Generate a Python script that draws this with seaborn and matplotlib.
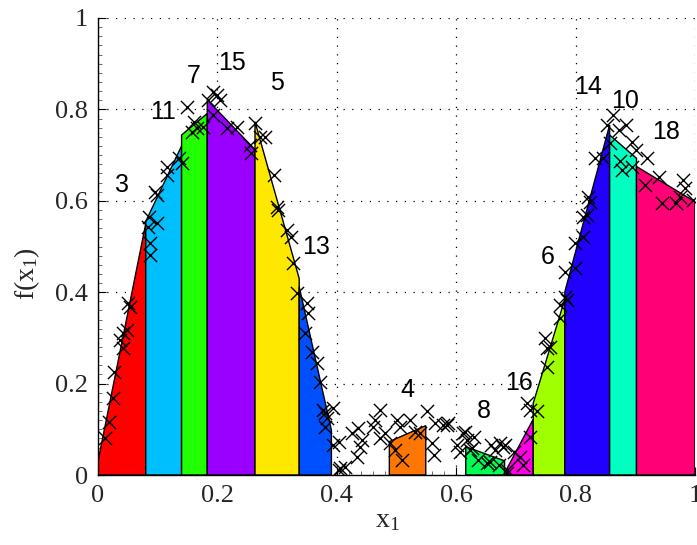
import matplotlib
matplotlib.use("Agg")
import matplotlib.pyplot as plt
from matplotlib.ticker import MultipleLocator
import numpy as np
import pandas as pd
import seaborn as sns

# Piecewise-linear local models: one trapezoid per region
region_ids = [3, 11, 7, 15, 5, 13, 4, 8, 16, 6, 14, 10, 18]
x_left = [0.000, 0.080, 0.140, 0.183, 0.263, 0.337, 0.488, 0.616, 0.681, 0.729, 0.782, 0.857, 0.902]
x_right = [0.080, 0.140, 0.183, 0.263, 0.337, 0.391, 0.549, 0.681, 0.729, 0.782, 0.857, 0.902, 1.000]
f_left = [0.030, 0.555, 0.744, 0.821, 0.773, 0.412, 0.073, 0.062, 0.004, 0.157, 0.401, 0.744, 0.675]
f_right = [0.550, 0.720, 0.791, 0.712, 0.430, 0.098, 0.108, 0.031, 0.122, 0.385, 0.766, 0.693, 0.598]
region_colors = ["#FF0000", "#00BFFF", "#22FF00", "#9900FF", "#FFE800", "#0050FF", "#FF7700",
                 "#00FF55", "#FF00E6", "#A0FF00", "#2200FF", "#00FFC0", "#FF0077"]

# Where each region number is written
label_x = [0.041, 0.109, 0.161, 0.224, 0.299, 0.365, 0.518, 0.647, 0.706, 0.754, 0.821, 0.883, 0.951]
label_y = [0.635, 0.795, 0.872, 0.902, 0.857, 0.500, 0.185, 0.141, 0.201, 0.478, 0.849, 0.818, 0.751]

# Training samples
sample_x = [0.012, 0.019, 0.025, 0.026, 0.042, 0.037, 0.042, 0.048, 0.051, 0.054,
            0.084, 0.087, 0.087, 0.086, 0.098, 0.095, 0.098, 0.115, 0.116, 0.135,
            0.140, 0.149, 0.160, 0.157, 0.165, 0.176, 0.185, 0.193, 0.199, 0.204,
            0.193, 0.216, 0.232, 0.255, 0.257, 0.263, 0.271, 0.280, 0.294, 0.299,
            0.302, 0.316, 0.324, 0.327, 0.333, 0.350, 0.352, 0.347, 0.358, 0.366,
            0.372, 0.377, 0.383, 0.380, 0.394, 0.403, 0.403, 0.414,
            0.380, 0.394, 0.405, 0.425, 0.436, 0.433, 0.439, 0.442, 0.464, 0.472,
            0.461, 0.472, 0.481, 0.489, 0.500, 0.497, 0.509, 0.506, 0.523, 0.531,
            0.539, 0.551, 0.559, 0.562, 0.564, 0.578, 0.587, 0.601, 0.606, 0.615,
            0.618, 0.626, 0.637, 0.651, 0.659, 0.665, 0.673, 0.671, 0.682, 0.685,
            0.696, 0.718, 0.724,
            0.584, 0.612, 0.629, 0.623, 0.657, 0.679, 0.685, 0.707, 0.712, 0.724,
            0.735, 0.752, 0.752, 0.749, 0.757, 0.774, 0.774, 0.782, 0.785, 0.782,
            0.799, 0.799, 0.813, 0.813, 0.819, 0.824, 0.821, 0.832, 0.846, 0.852,
            0.863, 0.858, 0.872, 0.885, 0.874, 0.877, 0.894, 0.894, 0.902, 0.919,
            0.916, 0.939, 0.944, 0.969, 0.975, 0.980, 0.983, 0.997]
sample_f = [0.080, 0.117, 0.168, 0.226, 0.277, 0.295, 0.310, 0.317, 0.376, 0.368,
            0.543, 0.507, 0.481, 0.565, 0.551, 0.620, 0.613, 0.656, 0.675, 0.693,
            0.682, 0.806, 0.773, 0.751, 0.759, 0.762, 0.821, 0.839, 0.832, 0.821,
            0.788, 0.759, 0.762, 0.722, 0.704, 0.770, 0.740, 0.740, 0.656, 0.587,
            0.580, 0.536, 0.521, 0.463, 0.398, 0.376, 0.354, 0.310, 0.270, 0.244,
            0.204, 0.142, 0.124, 0.106, 0.066, 0.073, 0.011, 0.018,
            0.135, 0.146, 0.015, 0.091, 0.102, 0.040, 0.062, 0.077, 0.120, 0.142,
            0.106, 0.080, 0.091, 0.069, 0.120, 0.055, 0.033, 0.106, 0.120, 0.095,
            0.091, 0.139, 0.069, 0.044, 0.113, 0.109, 0.113, 0.066, 0.051, 0.095,
            0.077, 0.058, 0.033, 0.026, 0.066, 0.055, 0.069, 0.022, 0.066, 0.004,
            0.051, 0.157, 0.142,
            0.109, 0.091, 0.084, 0.055, 0.029, 0.062, 0.011, 0.040, 0.022, 0.084,
            0.139, 0.237, 0.277, 0.299, 0.281, 0.343, 0.372, 0.390, 0.383, 0.445,
            0.452, 0.507, 0.521, 0.565, 0.569, 0.598, 0.609, 0.693, 0.693, 0.766,
            0.788, 0.726, 0.755, 0.766, 0.686, 0.667, 0.729, 0.675, 0.711, 0.693,
            0.635, 0.653, 0.595, 0.595, 0.609, 0.646, 0.627, 0.602]

x_ticks = [0, 0.2, 0.4, 0.6, 0.8, 1]
y_ticks = [0, 0.2, 0.4, 0.6, 0.8, 1]
tick_labels = ["0", "0.2", "0.4", "0.6", "0.8", "1"]

sns.set_style("white")
plt.rcParams["mathtext.default"] = "regular"

fig = plt.figure(figsize=(6.97, 5.45), dpi=100)
ax = fig.add_axes([98 / 697, 70 / 545, 597 / 697, 457 / 545])

# Region trapezoids
for xl, xr, fl, fr, c in zip(x_left, x_right, f_left, f_right, region_colors):
    ax.fill([xl, xl, xr, xr], [0, fl, fr, 0], facecolor=c, edgecolor="black",
            linewidth=1.0, zorder=2)

# Sample points
samples = pd.DataFrame({"x1": sample_x, "f": sample_f})
sns.scatterplot(data=samples, x="x1", y="f", marker="x", color="black", s=90,
                linewidth=1.0, ax=ax, zorder=3, legend=False)

for rid, lx, ly in zip(region_ids, label_x, label_y):
    ax.text(lx, ly, str(rid), ha="center", va="center", fontsize=18,
            family="Liberation Sans", color="black", zorder=4)

ax.set_xlim(0, 1)
ax.set_ylim(0, 1)
ax.set_xticks(x_ticks)
ax.set_yticks(y_ticks)
ax.set_xticklabels(tick_labels, family="Liberation Serif", fontsize=19)
ax.set_yticklabels(tick_labels, family="Liberation Serif", fontsize=19)
ax.xaxis.set_minor_locator(MultipleLocator(0.02))
ax.yaxis.set_minor_locator(MultipleLocator(0.02))
ax.tick_params(which="major", direction="in", length=6, width=0.8, color="black",
               pad=7, top=False, right=False, bottom=True, left=True)
ax.tick_params(which="minor", direction="in", length=3, width=0.6, color="#555555",
               top=False, right=False, bottom=True, left=True)

ax.grid(True, which="major", color="black", linestyle=(0, (1, 6)), linewidth=0.9)
ax.set_axisbelow(True)
for side in ("top", "right"):
    ax.spines[side].set_visible(False)
for side in ("left", "bottom"):
    ax.spines[side].set_color("black")
    ax.spines[side].set_linewidth(1.0)

ax.set_xlabel("$x_1$", family="Liberation Serif", fontsize=20)
ax.set_ylabel("$f(x_1)$", family="Liberation Serif", fontsize=20)
ax.xaxis.set_label_coords(0.485, -0.072)
ax.yaxis.set_label_coords(-0.118, 0.44)
ax.xaxis.label.set_va("top")
ax.yaxis.label.set_va("center")

fig.savefig("out.png", dpi=100)
